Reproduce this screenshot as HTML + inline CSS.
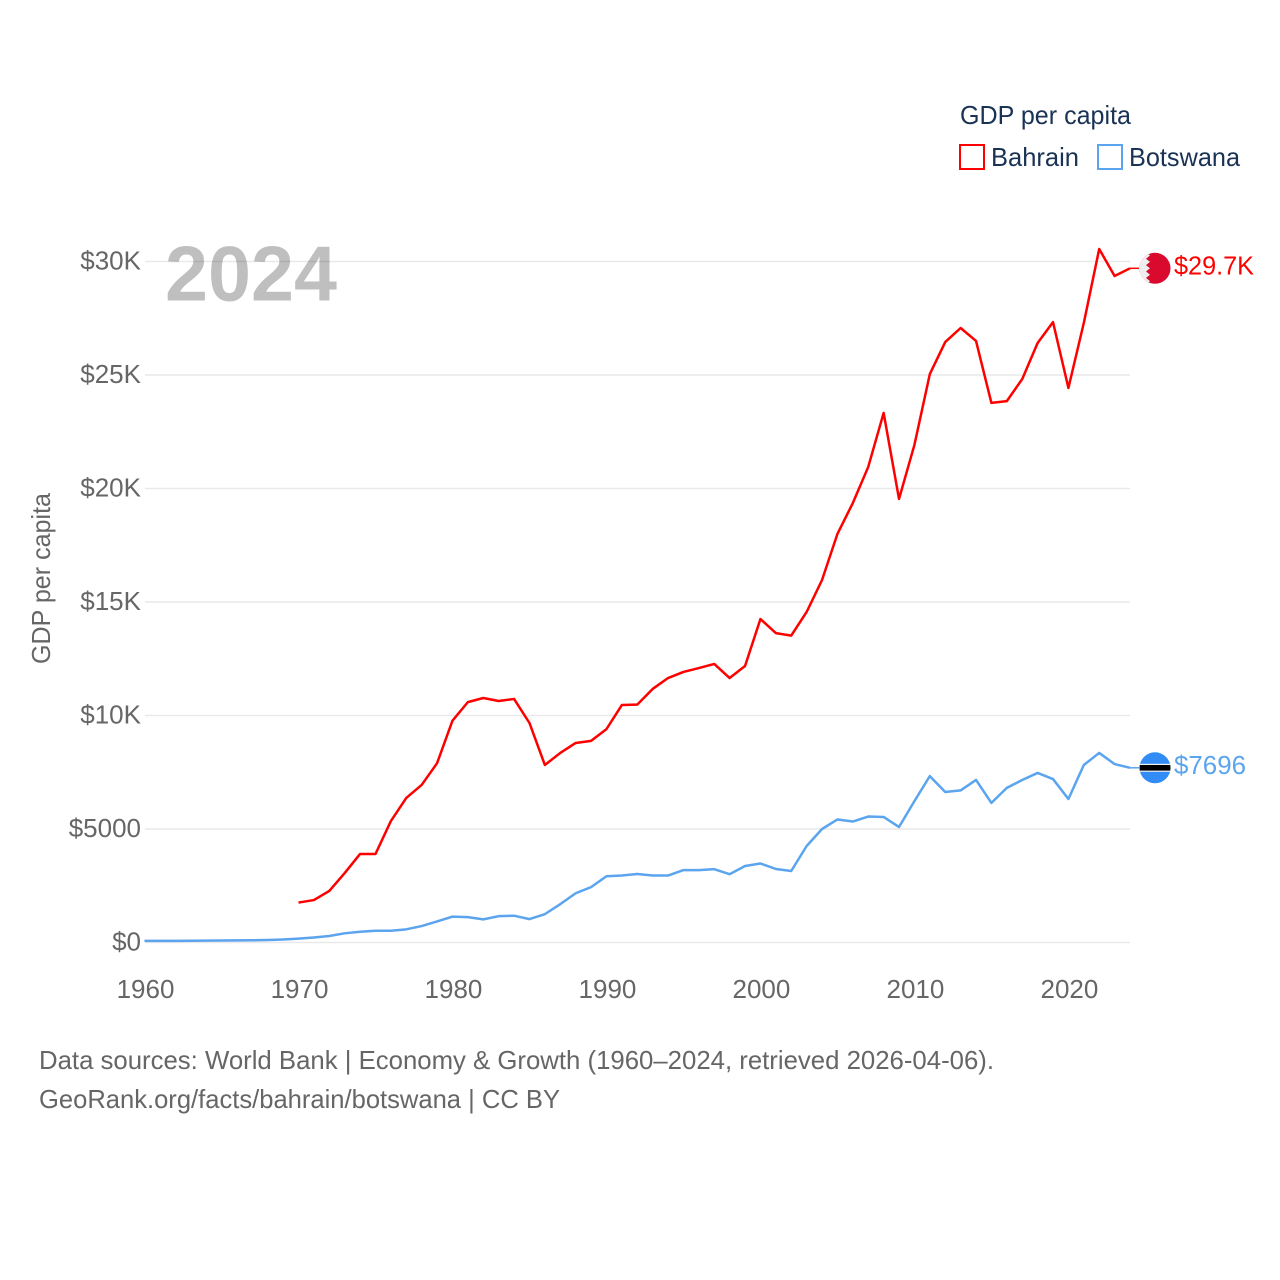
<!DOCTYPE html>
<html lang="en">
<head>
<meta charset="utf-8">
<title>GDP per capita: Bahrain and Botswana</title>
<style>
html,body{margin:0;padding:0;background:#fff;}
svg{display:block;font-family:"Liberation Sans",sans-serif;}
</style>
</head>
<body>
<svg id="chart" width="1280" height="1280" viewBox="0 0 1280 1280" xmlns="http://www.w3.org/2000/svg">
  <defs>
    <clipPath id="flag-clip"><circle cx="0" cy="0" r="15.5"></circle></clipPath>
  </defs>
  <g id="grid"></g>
  <g id="y-ticks"></g>
  <g id="x-ticks"></g>

  <text transform="translate(50,664) rotate(-90)" font-size="26" fill="#666" textLength="171" lengthAdjust="spacingAndGlyphs">GDP per capita</text>
  <text x="165" y="300.5" font-size="78" font-weight="700" fill="#000" fill-opacity="0.25" textLength="172" lengthAdjust="spacingAndGlyphs">2024</text>

  <g>
    <text x="960" y="124" font-size="26" fill="#1a3355" textLength="171" lengthAdjust="spacingAndGlyphs">GDP per capita</text>
    <g>
      <rect x="960" y="145" width="24" height="24" fill="none" stroke="#ff0000" stroke-width="2"></rect>
      <text x="991" y="166" font-size="26" fill="#1a3355" textLength="88" lengthAdjust="spacingAndGlyphs">Bahrain</text>
    </g>
    <g>
      <rect x="1098" y="145" width="24" height="24" fill="none" stroke="#5ba4ee" stroke-width="2"></rect>
      <text x="1129" y="166" font-size="26" fill="#1a3355" textLength="111" lengthAdjust="spacingAndGlyphs">Botswana</text>
    </g>
  </g>

  <g id="series"></g>

  <g id="flag-bahrain" clip-path="url(#flag-clip)">
    <rect x="-16" y="-16" width="32" height="32" fill="#da0a2e"></rect>
    <polygon fill="#eeeeee" points="-16,-16 -9,-16 -5,-12.8 -9,-9.6 -5,-6.4 -9,-3.2 -5,0 -9,3.2 -5,6.4 -9,9.6 -5,12.8 -9,16 -16,16"></polygon>
  </g>
  <g id="flag-botswana" clip-path="url(#flag-clip)">
    <rect x="-16" y="-16" width="32" height="32" fill="#318cf5"></rect>
    <rect x="-16" y="-4" width="32" height="8" fill="#f2f2f2"></rect>
    <rect x="-16" y="-2.8" width="32" height="5.6" fill="#000000"></rect>
  </g>

  <text id="value-bahrain" x="1174" font-size="26" fill="#ff0000" textLength="80" lengthAdjust="spacingAndGlyphs"></text>
  <text id="value-botswana" x="1174" font-size="26" fill="#5ba4ee" textLength="72" lengthAdjust="spacingAndGlyphs"></text>

  <g>
    <text x="39" y="1069" font-size="26" fill="#666" textLength="955" lengthAdjust="spacingAndGlyphs">Data sources: World Bank | Economy &amp; Growth (1960–2024, retrieved 2026-04-06).</text>
    <text x="39" y="1108" font-size="26" fill="#666" textLength="521" lengthAdjust="spacingAndGlyphs">GeoRank.org/facts/bahrain/botswana | CC BY</text>
  </g>
</svg>

<script>
const startYear = 1960;
const endYear = 2024;
const bahrainStartYear = 1970;
const xTickYears = [1960, 1970, 1980, 1990, 2000, 2010, 2020];
const yTickValues = [0, 5000, 10000, 15000, 20000, 25000, 30000];
const yTickLabels = ['$0', '$5000', '$10K', '$15K', '$20K', '$25K', '$30K'];
const bahrainValues = [1760, 1870, 2270, 3060, 3900, 3900, 5350, 6370, 6940, 7900,
  9770, 10590, 10770, 10640, 10730, 9670, 7820, 8350, 8790, 8880,
  9400, 10460, 10480, 11170, 11650, 11920, 12090, 12270, 11650, 12180,
  14250, 13630, 13520, 14560, 15970, 18000, 19360, 20950, 23330, 19540,
  21920, 25040, 26450, 27070, 26500, 23770, 23850, 24820, 26410, 27330,
  24430, 27290, 30550, 29360, 29700];
const botswanaValues = [70, 72, 74, 78, 82, 86, 92, 100, 110, 135,
  170, 220, 285, 405, 475, 520, 520, 580, 725, 930,
  1140, 1120, 1020, 1160, 1180, 1030, 1250, 1690, 2170, 2440,
  2920, 2950, 3020, 2950, 2950, 3190, 3190, 3230, 3010, 3370,
  3480, 3240, 3150, 4250, 5000, 5420, 5330, 5550, 5530, 5090,
  6230, 7330, 6630, 6700, 7160, 6150, 6810, 7160, 7470, 7200,
  6320, 7820, 8350, 7860, 7696];
const bahrainLabel = '$29.7K';
const botswanaLabel = '$7696';

const SVG_NS = 'http://www.w3.org/2000/svg';
const plotLeft = 144.5;
const plotRight = 1130;
const gridLeft = 145;
const plotZero = 942.5;
const pxPerDollar = 681 / 30000;
const flagX = 1155;
const connectorEnd = 1139;

function xScale(year) {
  return plotLeft + (year - startYear) * (plotRight - plotLeft) / (endYear - startYear);
}
function yScale(value) {
  return plotZero - value * pxPerDollar;
}
function svgEl(tag) {
  return document.createElementNS(SVG_NS, tag);
}

const gridGroup = document.getElementById('grid');
const yTickGroup = document.getElementById('y-ticks');
const xTickGroup = document.getElementById('x-ticks');
const seriesGroup = document.getElementById('series');

yTickValues.forEach(function (value, i) {
  const line = svgEl('line');
  
  
  line.setAttribute('x1', gridLeft);
  line.setAttribute('x2', plotRight);
  line.setAttribute('y1', yScale(value));
  line.setAttribute('y2', yScale(value));
  line.setAttribute('stroke', '#e9e9e9');
  line.setAttribute('stroke-width', '1.5');
  gridGroup.appendChild(line);

  const label = svgEl('text');
  
  
  label.setAttribute('x', 141);
  label.setAttribute('y', yScale(value) + 8);
  label.setAttribute('text-anchor', 'end');
  label.setAttribute('font-size', '26');
  label.setAttribute('fill', '#666');
  label.textContent = yTickLabels[i];
  yTickGroup.appendChild(label);
});

xTickYears.forEach(function (year) {
  const label = svgEl('text');
  
  
  label.setAttribute('x', xScale(year) + 1);
  label.setAttribute('y', 998);
  label.setAttribute('text-anchor', 'middle');
  label.setAttribute('font-size', '26');
  label.setAttribute('fill', '#666');
  label.textContent = year;
  xTickGroup.appendChild(label);
});

function pointsFor(values, firstYear) {
  return values.map(function (value, i) {
    return xScale(firstYear + i).toFixed(2) + ',' + yScale(value).toFixed(2);
  }).join(' ');
}

const bahrainLine = svgEl('polyline');


bahrainLine.setAttribute('points', pointsFor(bahrainValues, bahrainStartYear));
bahrainLine.setAttribute('fill', 'none');
bahrainLine.setAttribute('stroke', '#ff0000');
bahrainLine.setAttribute('stroke-width', '2.5');
bahrainLine.setAttribute('stroke-linejoin', 'round');
seriesGroup.appendChild(bahrainLine);

const botswanaLine = svgEl('polyline');


botswanaLine.setAttribute('points', pointsFor(botswanaValues, startYear));
botswanaLine.setAttribute('fill', 'none');
botswanaLine.setAttribute('stroke', '#5ba4ee');
botswanaLine.setAttribute('stroke-width', '2.5');
botswanaLine.setAttribute('stroke-linejoin', 'round');
seriesGroup.appendChild(botswanaLine);

const lastBahrain = bahrainValues[bahrainValues.length - 1];
const lastBotswana = botswanaValues[botswanaValues.length - 1];

const bahrainConnector = svgEl('line');


bahrainConnector.setAttribute('x1', plotRight);
bahrainConnector.setAttribute('x2', connectorEnd);
bahrainConnector.setAttribute('y1', yScale(lastBahrain));
bahrainConnector.setAttribute('y2', yScale(lastBahrain));
bahrainConnector.setAttribute('stroke', '#ff0000');
bahrainConnector.setAttribute('stroke-width', '1.5');
seriesGroup.appendChild(bahrainConnector);

const botswanaConnector = svgEl('line');


botswanaConnector.setAttribute('x1', plotRight);
botswanaConnector.setAttribute('x2', connectorEnd);
botswanaConnector.setAttribute('y1', yScale(lastBotswana));
botswanaConnector.setAttribute('y2', yScale(lastBotswana));
botswanaConnector.setAttribute('stroke', '#5ba4ee');
botswanaConnector.setAttribute('stroke-width', '1.5');
seriesGroup.appendChild(botswanaConnector);

document.getElementById('flag-bahrain').setAttribute('transform', 'translate(' + flagX + ',' + yScale(lastBahrain) + ')');
document.getElementById('flag-botswana').setAttribute('transform', 'translate(' + flagX + ',' + yScale(lastBotswana) + ')');

const bahrainValueText = document.getElementById('value-bahrain');
bahrainValueText.setAttribute('y', yScale(lastBahrain) + 6);
bahrainValueText.textContent = bahrainLabel;

const botswanaValueText = document.getElementById('value-botswana');
botswanaValueText.setAttribute('y', yScale(lastBotswana) + 6);
botswanaValueText.textContent = botswanaLabel;
</script>
</body>
</html>
